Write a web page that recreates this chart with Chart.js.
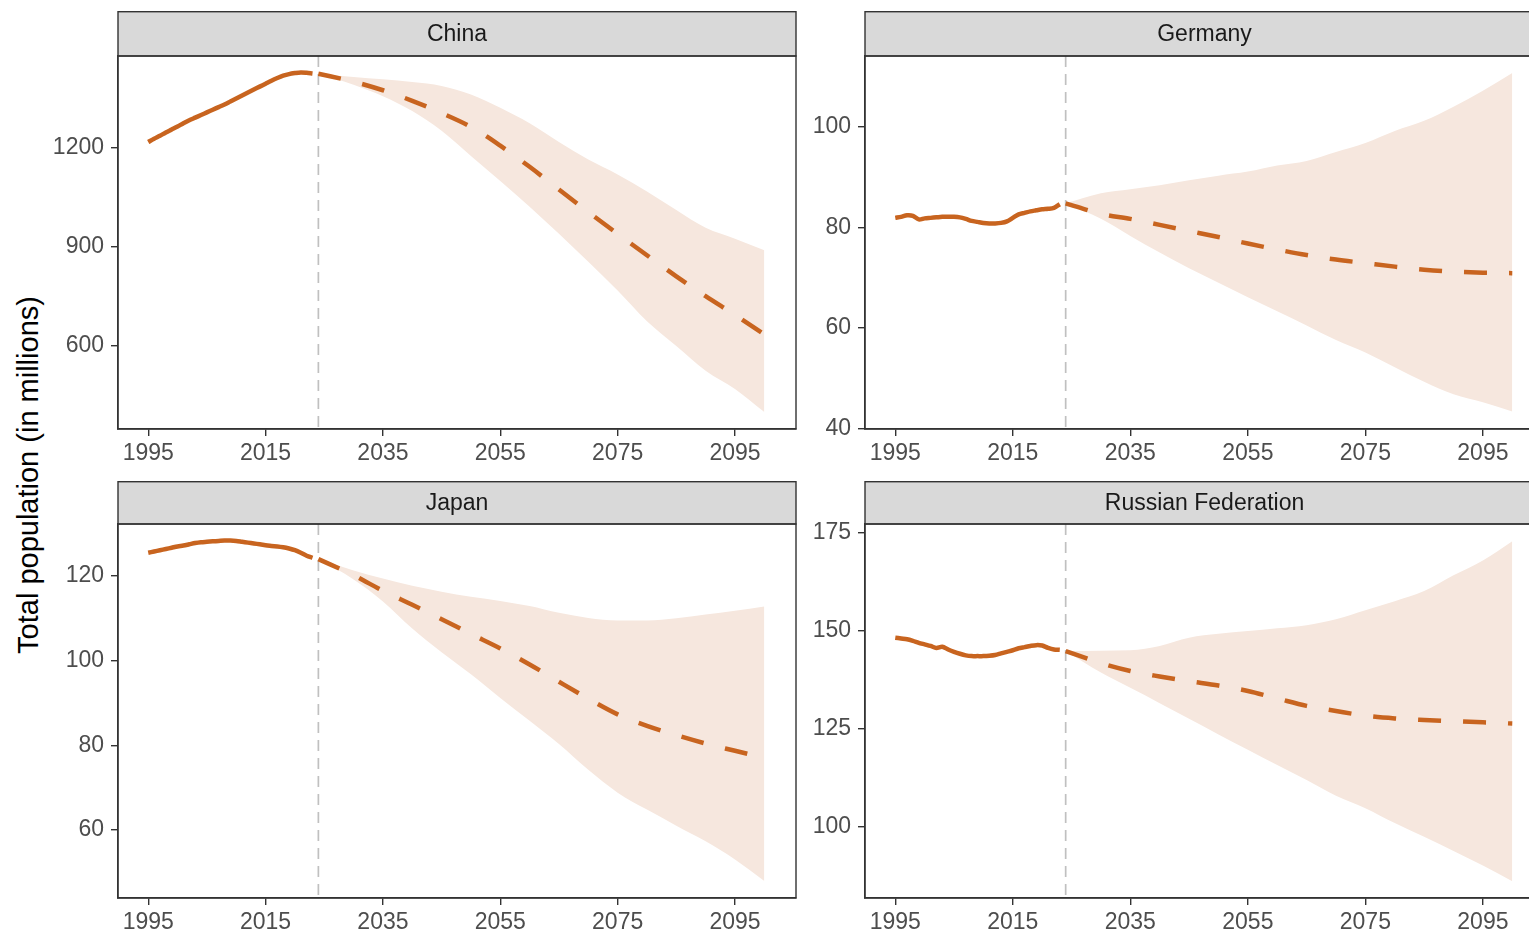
<!DOCTYPE html>
<html>
<head>
<meta charset="utf-8">
<script src="https://cdn.jsdelivr.net/npm/chart.js@4.4.1/dist/chart.umd.min.js"></script>
<style>
  html, body { margin: 0; padding: 0; background: #fff; overflow: hidden; width: 1529px; height: 932px; }
  .panel { position: absolute; }
  #ytitle {
    position: absolute; left: 28px; top: 475px;
    transform: translate(-50%, -50%) rotate(-90deg);
    font: 29px "Liberation Sans", Arial, sans-serif; color: #000; white-space: nowrap;
  }
</style>
</head>
<body>
<div id="ytitle">Total population (in millions)</div>
<div class="panel" style="left:0;top:11px;width:800px;height:470px"><canvas id="c0"></canvas></div>
<div class="panel" style="left:800px;top:11px;width:744px;height:470px"><canvas id="c1"></canvas></div>
<div class="panel" style="left:0;top:481px;width:800px;height:451px"><canvas id="c2"></canvas></div>
<div class="panel" style="left:800px;top:481px;width:744px;height:451px"><canvas id="c3"></canvas></div>
<script>
const countries = ['China', 'Germany', 'Japan', 'Russian Federation'];

const histYears = [1995, 1996, 1997, 1998, 1999, 2000, 2001, 2002, 2003, 2004, 2005, 2006, 2007, 2008, 2009,
  2010, 2011, 2012, 2013, 2014, 2015, 2016, 2017, 2018, 2019, 2020, 2021, 2022, 2023];
const projYears = [2024, 2030, 2035, 2040, 2045, 2050, 2055, 2060, 2065, 2070, 2075, 2080, 2085, 2090, 2095, 2100];
const projectionStart = 2024;

// population in millions
const chinaHist = [1218, 1228, 1237, 1247, 1256, 1265, 1275, 1284, 1292, 1300, 1308, 1316, 1324, 1332, 1341,
  1350, 1359, 1368, 1377, 1386, 1395, 1404, 1412, 1419, 1424, 1427, 1429, 1428, 1426];
const chinaMedian = [1425, 1401, 1375, 1343, 1306, 1264, 1207, 1143, 1074, 1006, 940, 875, 811, 751, 694, 635];
const chinaUpper = [1425, 1415, 1408, 1400, 1388, 1362, 1322, 1275, 1218, 1165, 1120, 1068, 1012, 958, 925, 890];
const chinaLower = [1425, 1392, 1357, 1312, 1252, 1176, 1100, 1022, 940, 855, 768, 675, 600, 525, 470, 400];

const germanyHist = [81.9, 82.1, 82.4, 82.3, 81.6, 81.8, 81.9, 82.0, 82.1, 82.1, 82.1, 82.0, 81.7, 81.3, 81.1,
  80.9, 80.8, 80.8, 80.9, 81.2, 81.9, 82.6, 82.9, 83.2, 83.4, 83.6, 83.7, 83.9, 84.6];
const germanyMedian = [84.8, 82.7, 81.7, 80.5, 79.3, 78.1, 76.8, 75.6, 74.5, 73.6, 72.9, 72.2, 71.6, 71.2, 71.0, 70.9];
const germanyUpper = [84.8, 86.8, 87.6, 88.4, 89.4, 90.3, 91.1, 92.3, 93.2, 95.0, 96.8, 99.2, 101.2, 104.0, 107.2, 110.7];
const germanyLower = [84.8, 81.7, 78.3, 75.0, 71.9, 69.0, 66.1, 63.3, 60.5, 57.6, 55.1, 52.2, 49.3, 46.8, 45.2, 43.4];

const japanHist = [125.5, 125.8, 126.1, 126.4, 126.7, 127.0, 127.2, 127.5, 127.8, 128.0, 128.1, 128.2, 128.3, 128.4, 128.4,
  128.3, 128.1, 127.9, 127.7, 127.5, 127.3, 127.1, 127.0, 126.8, 126.5, 126.1, 125.5, 124.8, 124.3];
const japanMedian = [124.0, 120.2, 116.5, 113.2, 109.8, 106.3, 102.9, 99.1, 95.0, 91.0, 87.3, 84.6, 82.4, 80.4, 78.7, 77.0];
const japanUpper = [124.0, 121.3, 119.4, 117.7, 116.3, 115.1, 114.1, 112.9, 111.3, 110.1, 109.5, 109.5, 110.0, 110.9, 111.8, 112.8];
const japanLower = [124.0, 119.2, 114.0, 107.6, 102.0, 96.8, 91.2, 85.8, 80.3, 74.2, 68.8, 64.8, 61.0, 57.3, 53.0, 47.9];

const russiaHist = [148.3, 148.1, 147.9, 147.5, 147.0, 146.6, 146.2, 145.7, 146.0, 145.3, 144.7, 144.2, 143.8, 143.6, 143.6,
  143.6, 143.7, 143.9, 144.3, 144.7, 145.1, 145.6, 145.9, 146.2, 146.4, 146.3, 145.7, 145.3, 145.2];
const russiaMedian = [144.9, 141.8, 139.8, 138.4, 137.2, 136.1, 134.7, 132.8, 130.9, 129.6, 128.4, 127.7, 127.3, 127.0, 126.7, 126.4];
const russiaUpper = [144.9, 145.0, 145.1, 146.2, 148.3, 149.3, 150.0, 150.7, 151.5, 153.0, 155.3, 157.6, 160.2, 164.2, 168.0, 172.9];
const russiaLower = [144.9, 139.4, 135.5, 131.6, 127.6, 123.6, 119.7, 115.8, 112.0, 108.0, 104.8, 101.0, 97.5, 93.9, 90.2, 86.2];

const xTicks = [1995, 2015, 2035, 2055, 2075, 2095];
const chinaTicks = [600, 900, 1200];
const germanyTicks = [40, 60, 80, 100];
const japanTicks = [60, 80, 100, 120];
const russiaTicks = [100, 125, 150, 175];

const lineColor = '#c8641f';
const bandColor = '#f6e7de';
const frameColor = '#333333';
const FONT = '"Liberation Sans", Arial, sans-serif';

Chart.defaults.font.family = FONT;

const toPoints = (xs, ys) => xs.map((x, i) => ({ x: x, y: ys[i] }));

// strip, panel frame and projection marker
const facetDecor = {
  id: 'facetDecor',
  beforeDatasetsDraw(chart, args, opts) {
    const { ctx, chartArea, scales } = chart;
    const x = scales.x.getPixelForValue(projectionStart);
    ctx.save();
    ctx.strokeStyle = '#c0c0c0';
    ctx.lineWidth = 1.7;
    ctx.setLineDash([11, 7]);
    ctx.beginPath();
    ctx.moveTo(x, chartArea.top);
    ctx.lineTo(x, chartArea.bottom);
    ctx.stroke();
    ctx.restore();
  },
  afterDraw(chart, args, opts) {
    const { ctx, chartArea } = chart;
    const w = chartArea.right - chartArea.left;
    ctx.save();
    ctx.fillStyle = '#d9d9d9';
    ctx.fillRect(chartArea.left, 0.7, w, chartArea.top - 0.7);
    ctx.strokeStyle = frameColor;
    ctx.lineWidth = 1.4;
    ctx.strokeRect(chartArea.left, 0.7, w, chartArea.top - 0.7);
    ctx.strokeRect(chartArea.left, chartArea.top, w, chartArea.bottom - chartArea.top);
    ctx.fillStyle = '#1a1a1a';
    ctx.font = '23px ' + FONT;
    ctx.textAlign = 'center';
    ctx.textBaseline = 'middle';
    ctx.fillText(opts.title, (chartArea.left + chartArea.right) / 2, chartArea.top / 2 + 1);
    ctx.restore();
  }
};

const panels = [
  { id: 'c0', name: countries[0], hist: chinaHist, median: chinaMedian, lower: chinaLower, upper: chinaUpper,
    yTicks: chinaTicks, yMin: 348.5, yMax: 1478.8, yWidth: 118, xHeight: 52, strip: 45, padRight: 4 },
  { id: 'c1', name: countries[1], hist: germanyHist, median: germanyMedian, lower: germanyLower, upper: germanyUpper,
    yTicks: germanyTicks, yMin: 39.9, yMax: 114.1, yWidth: 65, xHeight: 52, strip: 45, padRight: 0 },
  { id: 'c2', name: countries[2], hist: japanHist, median: japanMedian, lower: japanLower, upper: japanUpper,
    yTicks: japanTicks, yMin: 43.9, yMax: 132.3, yWidth: 118, xHeight: 34, strip: 43, padRight: 4 },
  { id: 'c3', name: countries[3], hist: russiaHist, median: russiaMedian, lower: russiaLower, upper: russiaUpper,
    yTicks: russiaTicks, yMin: 81.9, yMax: 177.3, yWidth: 65, xHeight: 34, strip: 43, padRight: 0 }
];

panels.forEach(p => {
  new Chart(document.getElementById(p.id), {
    type: 'line',
    data: {
      // Chart.js paints the first dataset last, so the lines go first
      datasets: [
        { data: toPoints(projYears, p.median), borderColor: lineColor, borderWidth: 4.5, pointRadius: 0,
          fill: false, borderDash: [23, 22], borderCapStyle: 'butt', cubicInterpolationMode: 'monotone' },
        { data: toPoints(histYears, p.hist), borderColor: lineColor, borderWidth: 4.5, pointRadius: 0,
          fill: false, tension: 0.3, borderCapStyle: 'butt', borderJoinStyle: 'round' },
        { data: toPoints(projYears, p.upper), borderWidth: 0, pointRadius: 0, fill: '+1',
          backgroundColor: bandColor, cubicInterpolationMode: 'monotone' },
        { data: toPoints(projYears, p.lower), borderWidth: 0, pointRadius: 0, fill: false,
          cubicInterpolationMode: 'monotone' }
      ]
    },
    options: {
      responsive: true,
      maintainAspectRatio: false,
      animation: false,
      events: [],
      layout: { padding: { top: p.strip, right: p.padRight, bottom: 0, left: 0 } },
      plugins: {
        legend: { display: false },
        tooltip: { enabled: false },
        facetDecor: { title: p.name }
      },
      scales: {
        x: {
          type: 'linear', min: 1989.85, max: 2105.4,
          afterBuildTicks: s => { s.ticks = xTicks.map(v => ({ value: v })); },
          afterFit: s => { s.height = p.xHeight; },
          grid: { display: true, drawOnChartArea: false, drawTicks: true, tickLength: 7, color: frameColor, lineWidth: 1.4 },
          border: { display: true, color: frameColor, width: 1.4 },
          ticks: { color: '#4d4d4d', font: { size: 23 }, padding: 4, maxRotation: 0, autoSkip: false,
            callback: v => String(v) }
        },
        y: {
          type: 'linear', min: p.yMin, max: p.yMax,
          afterBuildTicks: s => { s.ticks = p.yTicks.map(v => ({ value: v })); },
          afterFit: s => { s.width = p.yWidth; },
          grid: { display: true, drawOnChartArea: false, drawTicks: true, tickLength: 7, color: frameColor, lineWidth: 1.4 },
          border: { display: true, color: frameColor, width: 1.4 },
          ticks: { color: '#4d4d4d', font: { size: 23 }, padding: 7, autoSkip: false,
            callback: v => String(v) }
        }
      }
    },
    plugins: [facetDecor]
  });
});
</script>
</body>
</html>
